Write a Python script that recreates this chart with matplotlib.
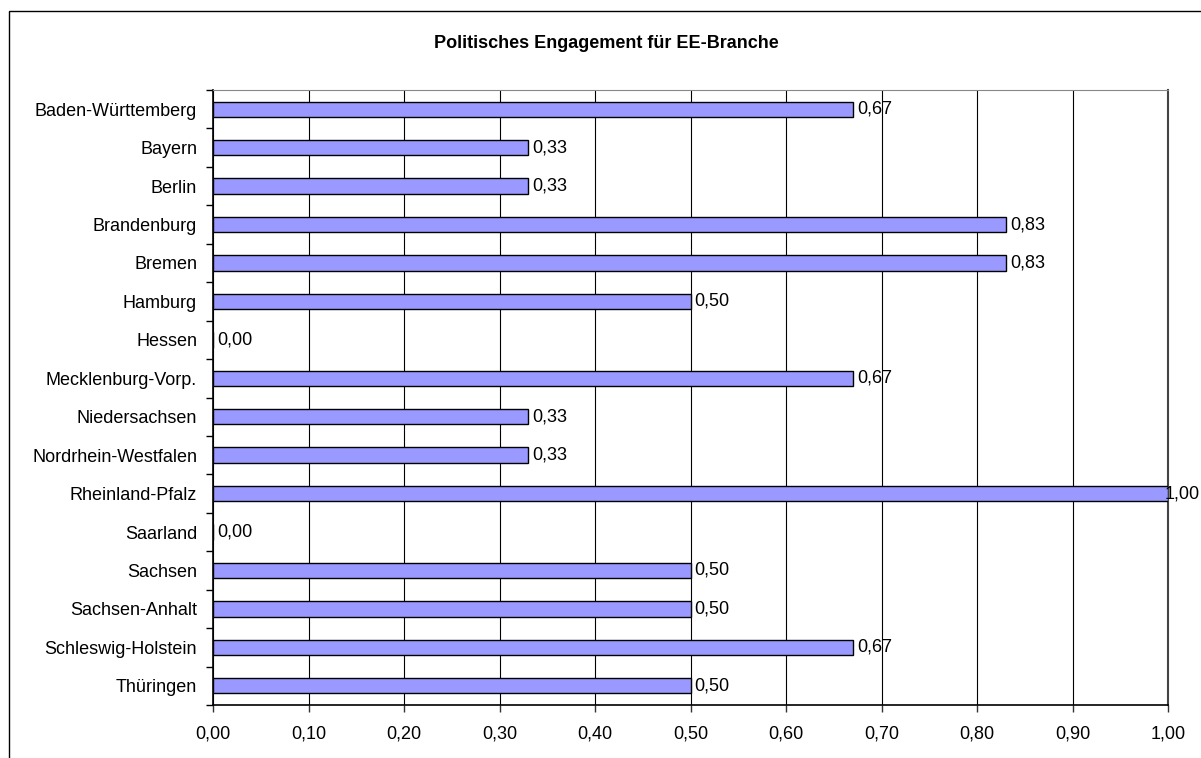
import matplotlib
matplotlib.use("Agg")
import matplotlib.pyplot as plt
from matplotlib.patches import Rectangle
from matplotlib.ticker import FixedLocator

plt.rcParams['font.family'] = ['Liberation Sans', 'DejaVu Sans']

categories = ["Baden-Württemberg", "Bayern", "Berlin", "Brandenburg", "Bremen",
              "Hamburg", "Hessen", "Mecklenburg-Vorp.", "Niedersachsen",
              "Nordrhein-Westfalen", "Rheinland-Pfalz", "Saarland", "Sachsen",
              "Sachsen-Anhalt", "Schleswig-Holstein", "Thüringen"]
values = [0.67, 0.33, 0.33, 0.83, 0.83, 0.50, 0.00, 0.67, 0.33, 0.33,
          1.00, 0.00, 0.50, 0.50, 0.67, 0.50]
title = "Politisches Engagement für EE-Branche"
xticks = [i / 10 for i in range(11)]

W, H = 1201, 758
fig = plt.figure(figsize=(W / 100, H / 100), dpi=100)
fig.patch.set_facecolor("white")
# outer chart frame (left/top visible; right/bottom run off the image)
fig.add_artist(Rectangle((9 / W, -0.1), 1.2, 1 - 11 / H + 0.1, transform=fig.transFigure,
                         fill=False, edgecolor="black", linewidth=1.0))

ax = fig.add_axes([213 / W, 1 - 705 / H, (1168 - 213) / W, (705 - 90) / H])
n = len(categories)
ypos = list(range(n))
ax.barh(ypos, values, height=0.4, color="#9999FF", edgecolor="black", linewidth=1.0, zorder=3)
ax.set_ylim(n - 0.5, -0.5)
ax.set_xlim(0, 1)
ax.set_yticks(ypos)
ax.set_yticklabels(categories, fontsize=13)
ax.yaxis.set_minor_locator(FixedLocator([i - 0.5 for i in range(n + 1)]))
ax.tick_params(axis="y", which="major", length=0, pad=11.5)
ax.tick_params(axis="y", which="minor", length=5, width=1.0, color="black")
ax.set_xticks(xticks)
ax.set_xticklabels([f"{t:.2f}".replace(".", ",") for t in xticks], fontsize=13)
ax.tick_params(axis="x", length=5, width=1.0, pad=10, color="#333333")
ax.grid(axis="x", color="black", linewidth=0.8, zorder=0)
ax.spines["top"].set_color("#888888")
ax.spines["right"].set_color("#444444")
ax.spines["right"].set_linewidth(1.5)
ax.spines["left"].set_linewidth(1.2)
ax.spines["bottom"].set_linewidth(1.2)

for y, v in zip(ypos, values):
    off = 3 if v < 1 else -2.5
    ax.annotate(f"{v:.2f}".replace(".", ","), (v, y), xytext=(off, 0), textcoords="offset points",
                va="center", ha="left", fontsize=13, zorder=5, annotation_clip=False)

fig.text(606 / W, 1 - 43 / H, title, ha="center", va="center",
         fontsize=13, fontweight="bold")

fig.savefig("out.png", dpi=100)
